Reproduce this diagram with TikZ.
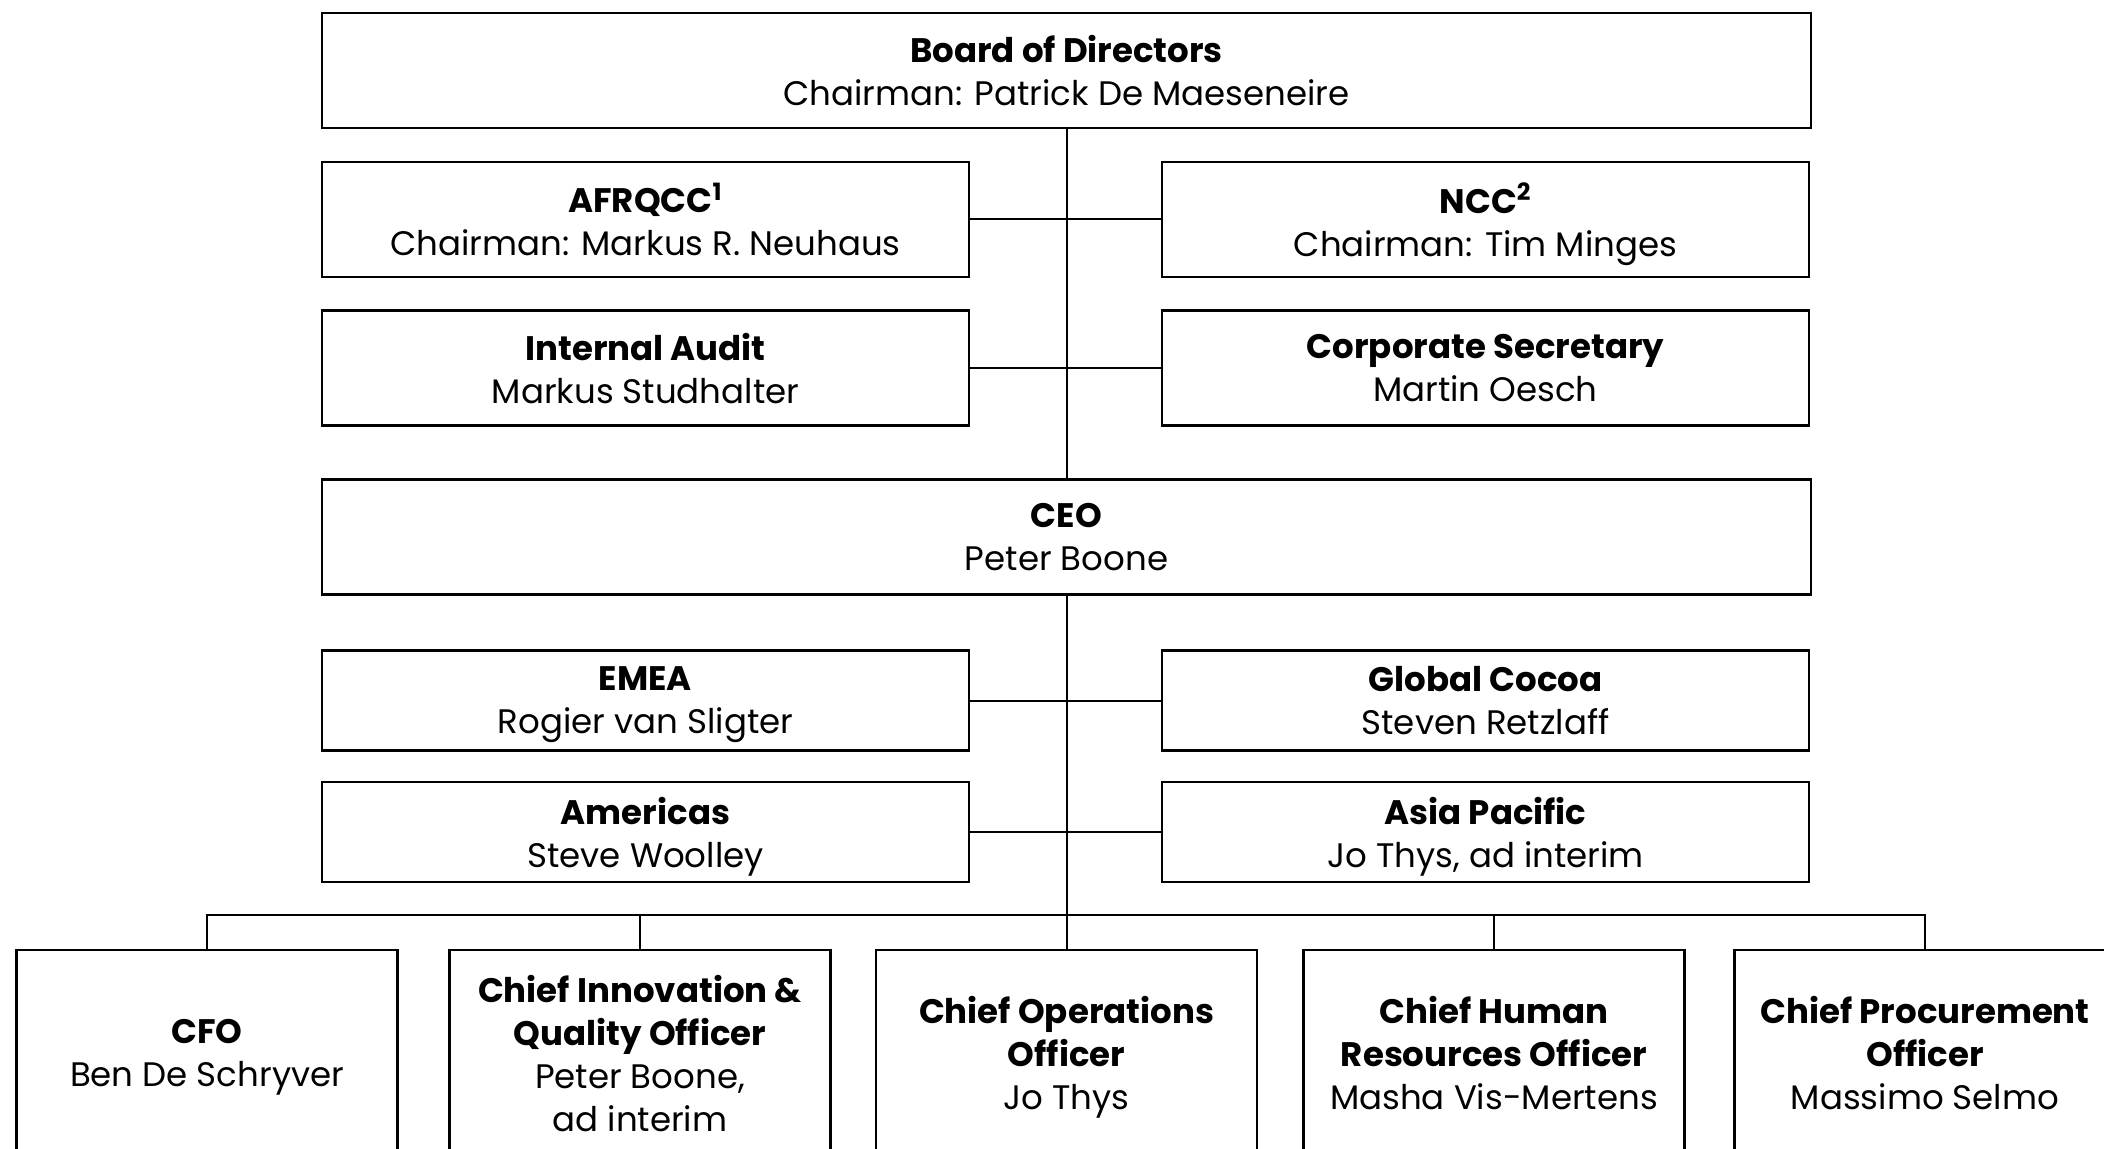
\documentclass[tikz,border=0pt]{standalone}
\usepackage{fontspec}
\setmainfont{Poppins}
\tikzset{
  unit/.style={draw, line width=1.3pt, align=center, inner sep=0pt,
    font=\fontsize{17}{21.5}\selectfont},
  wide/.style={unit, minimum width=744.5pt, minimum height=57.5pt},
  half/.style={unit, minimum width=323.5pt, minimum height=57.5pt},
  slim/.style={unit, minimum width=323.5pt, minimum height=50pt},
  officer/.style={unit, minimum width=190.5pt, minimum height=103pt},
}
\newcommand{\role}[2]{\textbf{#1}\\\smash{#2}}
\begin{document}
\begin{tikzpicture}[x=0.5pt,y=-0.5pt]
      \useasboundingbox (0,0) rectangle (2104,1149);
      \clip (0,0) rectangle (2104,1149);
      \draw
        (1066.5,70.5) node[wide] (board){\role{Board of Directors}{Chairman: Patrick De Maeseneire}}
        (645.5,219.5) node[half] (afrqcc){\role{AFRQCC\textsuperscript{1}}{Chairman: Markus R. Neuhaus}}
        (1485.5,219.5) node[half] (ncc){\role{NCC\textsuperscript{2}}{Chairman: Tim Minges}}
        (645.5,368) node[half] (audit){\role{Internal Audit}{Markus Studhalter}}
        (1485.5,368) node[half] (corpsec){\role{Corporate Secretary}{Martin Oesch}}
        (1066.5,537) node[wide] (ceo){\role{CEO}{Peter Boone}}
        (645.5,700.5) node[slim] (emea){\role{EMEA}{Rogier van Sligter}}
        (1485.5,700.5) node[slim] (cocoa){\role{Global Cocoa}{Steven Retzlaff}}
        (645.5,832) node[slim] (americas){\role{Americas}{Steve Woolley}}
        (1485.5,832) node[slim] (asiapac){\role{Asia Pacific}{Jo Thys, ad interim}}
        (207,1053) node[officer] (cfo){\role{CFO}{Ben De Schryver}}
        (640,1053) node[officer] (ciqo){\textbf{Chief Innovation \&}\\\textbf{Quality Officer}\\Peter Boone,\\\smash{ad interim}}
        (1066.5,1053) node[officer] (coo){\textbf{Chief Operations}\\\textbf{Officer}\\\smash{Jo Thys}}
        (1494,1053) node[officer] (chro){\textbf{Chief Human}\\\textbf{Resources Officer}\\\smash{Masha Vis-Mertens}}
        (1925,1053) node[officer] (cpo){\textbf{Chief Procurement}\\\textbf{Officer}\\\smash{Massimo Selmo}};
      \coordinate (bus) at (1066.5,915);
      \begin{scope}[-, line width=1pt]
        \draw (board) to (ceo);
        \draw (afrqcc) to (ncc);
        \draw (audit) to (corpsec);
        \draw (ceo) to (bus);
        \draw (emea) to (cocoa);
        \draw (americas) to (asiapac);
        \draw (cfo.north) |- (bus) -| (cpo.north);
        \draw (bus) to (coo.north);
        \draw (ciqo.north) to (ciqo.north |- bus);
        \draw (chro.north) to (chro.north |- bus);
      \end{scope}
    \end{tikzpicture}
\end{document}
